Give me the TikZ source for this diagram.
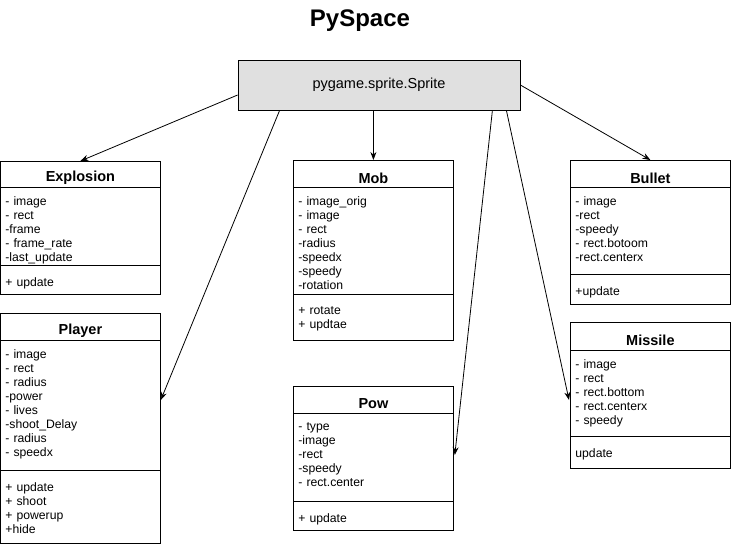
\documentclass[tikz,border=0pt]{standalone}
\usepackage{fontspec}
\setmainfont{Liberation Sans}
\usetikzlibrary{arrows.meta,calc,positioning}
\definecolor{spritegray}{HTML}{E0E0E0}

\tikzset{
  cls/.style={draw,rectangle,minimum width=160,anchor=north west,inner sep=0pt},
  head/.style={font=\bfseries\fontsize{14.5}{17}\selectfont,inner sep=0pt},
  list/.style={anchor=north west,text width=150pt,align=left,inner xsep=5pt,inner ysep=9pt,
    font=\fontsize{12.2}{14}\selectfont},
  ops/.style={list,inner ysep=12.5pt},
}

\begin{document}
\begin{tikzpicture}[x=1pt,y=-1pt,>={Stealth[length=8pt,width=6pt]},line width=0.8pt]
\useasboundingbox (0,0) rectangle (731,547);

\node[font=\bfseries\fontsize{24}{28}\selectfont] (title) at (360,21) {PySpace};
\node[draw,fill=spritegray,minimum width=282,minimum height=50,font=\fontsize{14.5}{17}\selectfont] (sprite) at (379,85) {pygame.sprite.Sprite};

% Explosion
\node[cls,minimum height=133] (expl) at (0,161) {};
\node[head] (expl_t) at ($(expl.north)+(0,17)$) {Explosion};
\draw ($(expl.north west)+(0,26)$) -- ($(expl.north east)+(0,26)$);
\draw ($(expl.north west)+(0,104)$) -- ($(expl.north east)+(0,104)$);
\node[list] (expl_a) at ($(expl.north west)+(0,26)$) {- image\\- rect\\-frame\\- frame\_rate\\-last\_update};
\node[ops] (expl_m) at ($(expl.north west)+(0,104)$) {+ update};

% Player
\node[cls,minimum height=230] (player) at (0,313) {};
\node[head] (player_t) at ($(player.north)+(0,18)$) {Player};
\draw ($(player.north west)+(0,27)$) -- ($(player.north east)+(0,27)$);
\draw ($(player.north west)+(0,157)$) -- ($(player.north east)+(0,157)$);
\node[list] (player_a) at ($(player.north west)+(0,27)$) {- image\\- rect\\- radius\\-power\\- lives\\-shoot\_Delay\\- radius\\- speedx};
\node[ops] (player_m) at ($(player.north west)+(0,157)$) {+ update\\+ shoot\\+ powerup\\+hide};

% Mob
\node[cls,minimum height=180] (mob) at (293,160) {};
\node[head] (mob_t) at ($(mob.north)+(0,18)$) {Mob};
\draw ($(mob.north west)+(0,27)$) -- ($(mob.north east)+(0,27)$);
\draw ($(mob.north west)+(0,134)$) -- ($(mob.north east)+(0,134)$);
\node[list] (mob_a) at ($(mob.north west)+(0,27)$) {- image\_orig\\- image\\- rect\\-radius\\-speedx\\-speedy\\-rotation};
\node[ops] (mob_m) at ($(mob.north west)+(0,134)$) {+ rotate\\+ updtae};

% Pow
\node[cls,minimum height=144] (pow) at (293,386) {};
\node[head] (pow_t) at ($(pow.north)+(0,18)$) {Pow};
\draw ($(pow.north west)+(0,27)$) -- ($(pow.north east)+(0,27)$);
\draw ($(pow.north west)+(0,115)$) -- ($(pow.north east)+(0,115)$);
\node[list] (pow_a) at ($(pow.north west)+(0,27)$) {- type\\-image\\-rect\\-speedy\\- rect.center};
\node[ops] (pow_m) at ($(pow.north west)+(0,115)$) {+ update};

% Bullet
\node[cls,minimum height=144] (bullet) at (570,160) {};
\node[head] (bullet_t) at ($(bullet.north)+(0,18)$) {Bullet};
\draw ($(bullet.north west)+(0,27)$) -- ($(bullet.north east)+(0,27)$);
\draw ($(bullet.north west)+(0,114)$) -- ($(bullet.north east)+(0,114)$);
\node[list] (bullet_a) at ($(bullet.north west)+(0,27)$) {- image\\-rect\\-speedy\\- rect.botoom\\-rect.centerx};
\node[ops] (bullet_m) at ($(bullet.north west)+(0,114)$) {+update};

% Missile
\node[cls,minimum height=146] (missile) at (570,322) {};
\node[head] (missile_t) at ($(missile.north)+(0,18)$) {Missile};
\draw ($(missile.north west)+(0,28)$) -- ($(missile.north east)+(0,28)$);
\draw ($(missile.north west)+(0,114)$) -- ($(missile.north east)+(0,114)$);
\node[list] (missile_a) at ($(missile.north west)+(0,28)$) {- image\\- rect\\- rect.bottom\\- rect.centerx\\- speedy};
\node[ops] (missile_m) at ($(missile.north west)+(0,114)$) {update};

% inheritance arrows
\path[->]
  ($(sprite.west)+(0,10)$) edge (expl.north)
  ($(sprite.south west)+(42,0)$) edge ($(player.north east)+(0,87)$)
  (mob.north |- sprite.south) edge (mob.north)
  ($(sprite.south east)+(-28,0)$) edge ($(pow.north east)+(1,69)$)
  ($(sprite.south east)+(-14,0)$) edge ($(missile.north west)+(-1,78)$)
  (sprite.east) edge (bullet.north);
\end{tikzpicture}
\end{document}
